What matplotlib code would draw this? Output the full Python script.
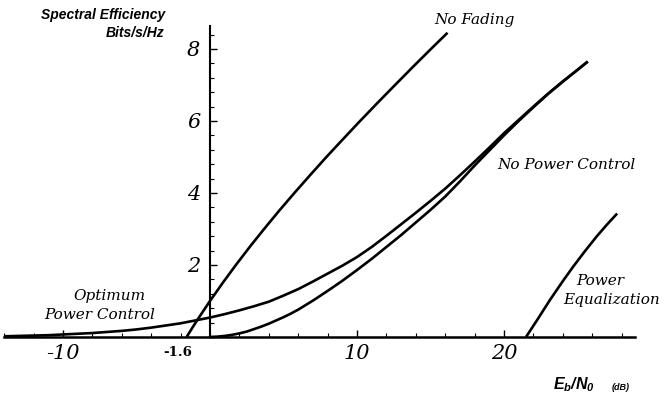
import matplotlib
matplotlib.use("Agg")
import matplotlib.pyplot as plt
from matplotlib.ticker import MultipleLocator, FixedLocator
import matplotlib.transforms as mtransforms

# Spectral efficiency (bits/s/Hz) versus Eb/N0 (dB)
no_fading_db = [-1.59, -1.21, -0.82, -0.41, 0.0, 0.86, 1.76, 2.70, 3.68, 4.69, 5.74, 6.82,
                7.92, 9.06, 10.21, 11.39, 12.59, 13.80, 15.03, 16.16]
no_fading_c = [0.0, 0.25, 0.5, 0.75, 1.0, 1.5, 2.0, 2.5, 3.0, 3.5, 4.0, 4.5,
               5.0, 5.5, 6.0, 6.5, 7.0, 7.5, 8.0, 8.45]

optimum_db = [-14, -13, -12, -11, -10, -9, -8, -7, -6, -5, -4, -3, -2, -1, 0, 1, 2, 3, 4, 5,
              6, 7, 8, 9, 10, 11, 12, 13, 14, 15, 16, 17, 18, 19, 20, 21, 22, 23, 24, 25, 25.7]
optimum_c = [0.02, 0.03, 0.04, 0.05, 0.07, 0.09, 0.11, 0.14, 0.17, 0.21, 0.26, 0.32, 0.38,
             0.46, 0.54, 0.635, 0.74, 0.855, 0.98, 1.15, 1.33, 1.54, 1.76, 1.98, 2.22, 2.5,
             2.81, 3.13, 3.45, 3.78, 4.12, 4.49, 4.87, 5.26, 5.66, 6.03, 6.4, 6.76, 7.1, 7.42, 7.65]

no_pc_db = [0, 0.5, 1, 1.5, 2, 2.5, 3, 3.5, 4, 4.5, 5, 5.5, 6, 7, 8, 9, 10, 11, 12, 13, 14,
            15, 16, 17, 18, 19, 20, 21, 22, 23, 24, 25, 25.7]
no_pc_c = [0.0, 0.01, 0.03, 0.06, 0.1, 0.15, 0.22, 0.29, 0.37, 0.46, 0.55, 0.65, 0.76,
           1.01, 1.28, 1.56, 1.86, 2.17, 2.5, 2.83, 3.18, 3.53, 3.9, 4.32, 4.76, 5.18,
           5.6, 6.0, 6.38, 6.75, 7.09, 7.42, 7.65]

equal_db = [21.5, 22.3, 23.13, 24.0, 24.7, 25.5, 26.3, 27.0, 27.7]
equal_c = [0.0, 0.5, 1.03, 1.55, 1.95, 2.38, 2.79, 3.12, 3.43]

x_tick_vals = [-10, 10, 20]
x_tick_text = ["-10", "10", "20"]
y_tick_vals = [2, 4, 6, 8]
y_tick_text = ["2", "4", "6", "8"]

plt.rcParams["mathtext.fontset"] = "custom"
plt.rcParams["mathtext.it"] = "Liberation Sans:bold:italic"
plt.rcParams["mathtext.rm"] = "Liberation Sans:bold:italic"
plt.rcParams["mathtext.bf"] = "Liberation Sans:bold:italic"

fig = plt.figure(figsize=(6.64, 3.99), dpi=100)
ax = fig.add_axes([0.00633, 0.1554, 0.9497, 0.7805])

lw = 1.9
for xs, ys in [(no_fading_db, no_fading_c), (optimum_db, optimum_c),
               (no_pc_db, no_pc_c), (equal_db, equal_c)]:
    ax.plot(xs, ys, color="black", lw=lw, solid_capstyle="butt", solid_joinstyle="round",
            clip_on=False, zorder=3)

ax.set_xlim(-14, 28.9)
ax.set_ylim(0, 8.65)

for side in ("top", "right"):
    ax.spines[side].set_visible(False)
ax.spines["left"].set_position(("data", 0))
ax.spines["bottom"].set_position(("data", 0))
ax.spines["left"].set_linewidth(1.5)
ax.spines["bottom"].set_linewidth(1.8)

serif_it = dict(family="DejaVu Serif", style="italic")

ax.xaxis.set_major_locator(FixedLocator(x_tick_vals))
ax.set_xticklabels(x_tick_text, fontdict=dict(size=15, **serif_it))
ax.xaxis.set_minor_locator(MultipleLocator(2))
ax.tick_params(axis="x", which="major", direction="in", length=5, width=1.0, pad=5)
ax.tick_params(axis="x", which="minor", direction="in", length=3, width=0.8)

ax.yaxis.set_major_locator(FixedLocator(y_tick_vals))
ax.set_yticklabels(y_tick_text, fontdict=dict(size=15, **serif_it))
ax.yaxis.set_minor_locator(MultipleLocator(0.4))
ax.tick_params(axis="y", which="major", direction="in", length=5, width=1.0, pad=7)
ax.tick_params(axis="y", which="minor", direction="in", length=3, width=0.8)

# Shannon limit label on the x axis
trans = mtransforms.blended_transform_factory(ax.transData, fig.transFigure)
ax.text(-2.2, 1 - 353 / 399, "-1.6", transform=trans, ha="center", va="center",
        family="DejaVu Serif", weight="bold", size=9.5)

# Axis titles
sans_bi = dict(family="Liberation Sans", weight="bold", style="italic")
fig.text(165 / 664, 1 - 15 / 399, "Spectral Efficiency", ha="right", va="center", size=10, **sans_bi)
fig.text(165 / 664, 1 - 33 / 399, "Bits/s/Hz", ha="right", va="center", size=10, **sans_bi)
fig.text(553 / 664, 1 - 385 / 399, r"$E_b/N_0$", ha="left", va="center", size=11.5)
fig.text(612 / 664, 1 - 387 / 399, "(dB)", ha="left", va="center", size=6.5, **sans_bi)

# Curve labels
lab = dict(family="DejaVu Serif", style="italic", size=11, ha="center", va="center")
fig.text(475 / 664, 1 - 20 / 399, "No Fading", **lab)
fig.text(566 / 664, 1 - 165 / 399, "No Power Control", **lab)
fig.text(109 / 664, 1 - 296 / 399, "Optimum", **lab)
fig.text(100 / 664, 1 - 315 / 399, "Power Control", **lab)
fig.text(600 / 664, 1 - 281 / 399, "Power", **lab)
fig.text(612 / 664, 1 - 300 / 399, "Equalization", **lab)

fig.savefig("out.png", dpi=100)
